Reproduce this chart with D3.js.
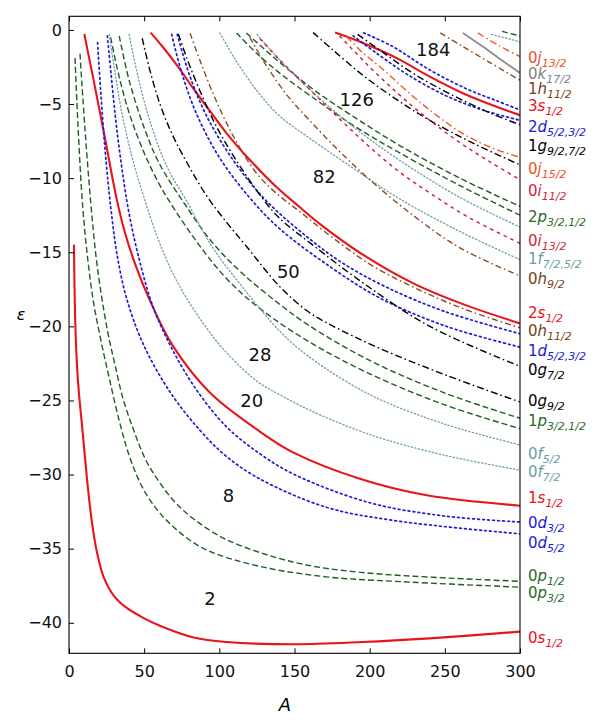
<!DOCTYPE html>
<html><head><meta charset="utf-8">
<script src="https://cdn.jsdelivr.net/npm/d3@7"></script>
<style>body{margin:0;background:#fff} svg{display:block} text{font-family:"DejaVu Sans",sans-serif}</style>
</head><body><svg id="c" width="606" height="722"></svg>
<script>
// ---------------- DATA (A, epsilon) ----------------
const xTicks = [0, 50, 100, 150, 200, 250, 300];
const yTicks = [0, -5, -10, -15, -20, -25, -30, -35, -40];

const lv_0s1 = [[3.3,-14.5],[3.7,-17.5],[4.3,-20.2],[5.3,-22.6],[6.6,-24.5],[8.3,-26.3],[10.5,-28.7],[13,-31.3],[15.5,-33.4],[18.5,-35.2],[23,-36.9],[30,-38.2],[38.4,-39.0],[50,-39.7],[60.5,-40.2],[83,-41.0],[105,-41.3],[150,-41.45],[195,-41.3],[240,-41.05],[300,-40.6]];
const lv_1s1 = [[10.2,-0.27],[13,-1.7],[16.2,-3.3],[22.8,-6.7],[31.7,-11.4],[37,-13.6],[44,-15.8],[54,-18.3],[69,-21.3],[94,-24.5],[127,-27.1],[149,-28.5],[194,-30.3],[238,-31.4],[300,-32.1]];
const lv_2s1 = [[54.3,-0.18],[62,-1.1],[72,-2.4],[83,-4.0],[94,-5.5],[105,-7.0],[116,-8.3],[138,-10.6],[154,-12.0],[167,-13.1],[196,-15.2],[229,-17.1],[262,-18.5],[300,-19.8]];
const lv_3s1 = [[177,-0.18],[196,-0.9],[218,-1.9],[240,-3.15],[262,-4.27],[284,-5.17],[300,-5.75]];

const lv_0p3 = [[4.0,-1.9],[6,-6.5],[9.1,-11.9],[12.5,-15.5],[16.2,-18.3],[20.5,-20.6],[25,-22.7],[34,-26.6],[41,-29.0],[49,-30.9],[58,-32.3],[67,-33.3],[80,-34.4],[94,-35.2],[127,-36.2],[171,-36.9],[216,-37.2],[300,-37.6]];
const lv_0p1 = [[7.3,-1.6],[10.5,-6.5],[14.5,-11.7],[18,-15.3],[21.7,-18.0],[26,-20.5],[30.6,-22.6],[36,-24.9],[43,-27.0],[51,-29.0],[60,-30.5],[70,-31.8],[83,-33.0],[105,-34.4],[149,-35.9],[194,-36.6],[300,-37.2]];
const lv_1p3 = [[27.7,-0.5],[33,-3.0],[40,-5.6],[50,-8.3],[60,-10.4],[67,-11.6],[85,-14.3],[105,-16.8],[127,-18.8],[159,-21.0],[200,-23.2],[250,-25.3],[300,-26.9]];
const lv_1p1 = [[33.4,-0.4],[40,-3.4],[50,-6.6],[60,-9.0],[76,-11.6],[95,-14.3],[115,-16.4],[140,-18.5],[159,-19.9],[200,-22.3],[250,-24.5],[300,-26.2]];
const lv_2p3 = [[111.5,-0.2],[125,-1.6],[140,-2.9],[160,-4.4],[190,-6.5],[220,-8.3],[260,-10.5],[300,-12.5]];
const lv_2p1 = [[118,-0.2],[130,-1.3],[145,-2.6],[165,-4.2],[190,-5.9],[220,-7.8],[260,-10.0],[300,-11.9]];
const lv_3p3 = [[288,-0.1],[300,-0.4]];

const lv_0d5 = [[19,-0.85],[21,-4],[23.5,-7.5],[26,-10.3],[28.5,-12.6],[31.7,-15.0],[38,-18.0],[49.4,-21.2],[67,-24.4],[87,-27.0],[105,-28.8],[127,-30.3],[171,-32.2],[216,-33.1],[300,-34.0]];
const lv_0d3 = [[25.5,-0.4],[28,-3],[31,-6],[35,-9.2],[40,-12.4],[47,-15.6],[56,-18.7],[70,-21.8],[87,-24.6],[105,-26.8],[127,-28.6],[150,-30.0],[200,-31.9],[250,-32.8],[300,-33.2]];
const lv_1d5 = [[68.3,-0.3],[75,-2.9],[85,-5.7],[100,-8.6],[120,-11.3],[140,-13.4],[174,-16.0],[207,-18.1],[251,-20.0],[300,-21.4]];
const lv_1d3 = [[72,-0.3],[80,-3.0],[92,-5.9],[110,-8.9],[130,-11.4],[154,-13.6],[180,-15.6],[210,-17.3],[250,-19.0],[300,-20.5]];
const lv_2d5 = [[189,-0.4],[205,-1.6],[225,-3.0],[250,-4.4],[275,-5.4],[300,-6.1]];
const lv_2d3 = [[196,-0.2],[215,-1.1],[240,-2.7],[265,-4.0],[285,-4.8],[300,-5.4]];

const lv_0f7 = [[26.8,-0.3],[30,-2.5],[35,-5.5],[42,-8.6],[50.5,-11.5],[60,-14.3],[72,-17.0],[90,-19.9],[105,-21.8],[125,-23.7],[140,-24.6],[159,-25.6],[200,-27.3],[250,-28.7],[300,-29.7]];
const lv_0f5 = [[40,-0.3],[46,-3.2],[54,-6.2],[65,-9.2],[78,-11.5],[95,-14.6],[115,-17.3],[140,-20.3],[159,-22.0],[200,-24.6],[250,-26.6],[300,-28.0]];
const lv_1f7 = [[100.4,-0.2],[110,-1.9],[125,-4.1],[140,-5.8],[160,-7.3],[190,-9.4],[220,-11.4],[260,-13.6],[300,-15.5]];
const lv_1f5 = [[125,-0.3],[140,-2.0],[160,-4.0],[190,-6.6],[220,-8.8],[260,-11.3],[300,-13.3]];
const lv_2f7 = [[281,-0.3],[300,-0.8]];

const lv_0g9 = [[48.7,-0.56],[54,-2.8],[60.5,-5.0],[68,-6.9],[76,-8.5],[91.6,-11.2],[105,-13.0],[118,-14.6],[140,-17.3],[159,-19.0],[174,-19.9],[207,-21.5],[251,-23.3],[300,-25.1]];
const lv_0g7 = [[72.7,-0.27],[78,-1.8],[85,-3.6],[97,-6.3],[110,-8.6],[129,-11.4],[140,-12.7],[162,-14.5],[196,-17.1],[240,-20.0],[300,-22.7]];
const lv_1g9 = [[162.4,-0.18],[175,-1.3],[196,-3.1],[218,-4.7],[240,-6.1],[270,-7.7],[300,-9.1]];
const lv_1g7 = [[192,-0.3],[210,-1.6],[230,-3.0],[255,-4.4],[280,-5.6],[300,-6.4]];

const lv_0h11 = [[80.5,-0.22],[88,-2.3],[98,-4.8],[110,-7.3],[125,-9.7],[140,-11.2],[154,-12.3],[170,-13.6],[200,-15.8],[230,-17.4],[262,-18.8],[300,-20.1]];
const lv_0h9 = [[120.3,-0.5],[130,-2.2],[145,-4.4],[160,-6.1],[180,-8.2],[200,-10.1],[230,-12.6],[260,-14.7],[300,-16.6]];
const lv_1h11 = [[247,-0.2],[260,-1.0],[280,-2.2],[300,-3.4]];

const lv_0i13 = [[127,-0.6],[140,-2.0],[160,-4.0],[180,-6.0],[200,-7.9],[220,-9.6],[240,-11.0],[265,-12.6],[300,-14.4]];
const lv_0i11 = [[180,-0.4],[200,-2.5],[220,-4.4],[240,-6.1],[260,-7.6],[280,-8.9],[300,-10.1]];

const lv_0j15 = [[184.6,-0.45],[195,-1.5],[207,-2.5],[229,-4.5],[245,-5.8],[262,-7.0],[280,-7.9],[300,-8.6]];
const lv_0j13 = [[272,-0.2],[285,-1.0],[300,-1.8]];
const lv_0k17 = [[262,-0.2],[275,-1.1],[290,-2.2],[300,-2.9]];

// orbital letter of each curve
const curveOrbital = ["s","s","s","s","p","p","p","p","p","p","p","d","d","d","d","d","d","f","f","f","f","f","g","g","g","g","h","h","h","i","i","j","j","k"];
const curvePoints = [lv_0s1,lv_1s1,lv_2s1,lv_3s1,lv_0p3,lv_0p1,lv_1p3,lv_1p1,lv_2p3,lv_2p1,lv_3p3,lv_0d5,lv_0d3,lv_1d5,lv_1d3,lv_2d5,lv_2d3,lv_0f7,lv_0f5,lv_1f7,lv_1f5,lv_2f7,lv_0g9,lv_0g7,lv_1g9,lv_1g7,lv_0h11,lv_0h9,lv_1h11,lv_0i13,lv_0i11,lv_0j15,lv_0j13,lv_0k17];

// right-hand level labels: node, orbital, j, energy where label sits
const labelN   = ["0","0","1","3","2","1","0","0","2","0","1","0","2","0","1","0","0","1","0","0","1","0","0","0","0","0"];
const labelL   = ["j","k","h","s","d","g","j","i","p","i","f","h","s","h","d","g","g","p","f","f","s","d","d","p","p","s"];
const labelJ   = ["13/2","17/2","11/2","1/2","5/2,3/2","9/2,7/2","15/2","11/2","3/2,1/2","13/2","7/2,5/2","9/2","1/2","11/2","5/2,3/2","7/2","9/2","3/2,1/2","5/2","7/2","1/2","3/2","5/2","1/2","3/2","1/2"];
const labelEps = [-1.86,-2.97,-3.98,-5.13,-6.52,-7.83,-9.38,-10.86,-12.6,-14.24,-15.42,-16.8,-19.06,-20.31,-21.66,-22.94,-25.03,-26.38,-28.61,-29.76,-31.55,-33.23,-34.58,-36.84,-37.96,-40.99];

// magic numbers placed in the gaps
const magicNumbers = ["2","8","20","28","50","82","126","184"];
const magicA   = [93.8,106,121.5,127,145.9,169.8,191.4,242.3];
const magicEps = [-38.35,-31.4,-25.0,-21.9,-16.3,-9.9,-4.72,-1.35];

// ---------------- STYLE ----------------
const styleOf = {
  s:{c:"#e8141c", w:2.1, d:null},
  p:{c:"#1f5e1f", w:1.4, d:"6,3"},
  d:{c:"#1c1cd8", w:1.7, d:"1.8,3.2"},
  f:{c:"#6f9fa4", w:1.3, d:"1.3,2.3"},
  g:{c:"#000000", w:1.4, d:"7,3,1.6,3"},
  h:{c:"#8b4a26", w:1.4, d:"6,3,1.6,3"},
  i:{c:"#d42045", w:1.5, d:"3.5,4"},
  j:{c:"#f05a28", w:1.4, d:"7,3,1.6,3"},
  k:{c:"#8c8c8c", w:1.8, d:null}
};
const labelColor = {s:"#e8141c",p:"#2a6a2a",d:"#1a1ad8",f:"#6a9ea3",g:"#000",h:"#7a4020",i:"#d21f3c",j:"#f0502a",k:"#808080"};

const svg = d3.select("#c");
const x = d3.scaleLinear().domain([0,300]).range([69,520]);
const y = d3.scaleLinear().domain([0.92,-42.06]).range([16.3,653.3]);

svg.append("defs").append("clipPath").attr("id","clip")
  .append("rect").attr("x",69).attr("y",16.3).attr("width",451).attr("height",637);

const line = d3.line().x(d=>x(d[0])).y(d=>y(d[1])).curve(d3.curveCatmullRom.alpha(0.5));
const g = svg.append("g").attr("clip-path","url(#clip)");
curvePoints.forEach((pts,i)=>{
  const st = styleOf[curveOrbital[i]];
  g.append("path").attr("d",line(pts)).attr("fill","none")
   .attr("stroke",st.c).attr("stroke-width",st.w)
   .attr("stroke-dasharray",st.d).attr("stroke-linecap", st.d && st.d.startsWith("1.") ? "round":"butt");
});

// axes
const fmt = d3.format("d");
const ax = svg.append("g").attr("transform",`translate(0,${y.range()[1]})`)
  .call(d3.axisBottom(x).tickValues(xTicks).tickSizeInner(-5).tickSizeOuter(0).tickPadding(12).tickFormat(fmt));
const axt = svg.append("g").attr("transform",`translate(0,${y.range()[0]})`)
  .call(d3.axisTop(x).tickValues(xTicks).tickSizeInner(-5).tickSizeOuter(0).tickFormat(""));
const ay = svg.append("g").attr("transform",`translate(${x.range()[0]},0)`)
  .call(d3.axisLeft(y).tickValues(yTicks).tickSizeInner(-5).tickSizeOuter(0).tickPadding(7).tickFormat(fmt));
[ax,axt,ay].forEach(a=>{
  a.select(".domain").remove();
  a.selectAll("line").attr("stroke","#000").attr("stroke-width",1);
  a.selectAll("text").attr("font-family","DejaVu Sans, sans-serif").attr("font-size",16).attr("fill","#111");
});
svg.append("rect").attr("x",69).attr("y",16.3).attr("width",451).attr("height",637)
  .attr("fill","none").attr("stroke","#000").attr("stroke-width",1.1);

// axis titles
svg.append("text").attr("x",285).attr("y",711).attr("text-anchor","middle")
  .attr("font-size",18).attr("font-style","italic").text("A");
svg.append("text").attr("x",21).attr("y",320).attr("text-anchor","middle")
  .attr("font-size",16).attr("font-style","italic").attr("font-family","DejaVu Serif, serif").text("ε");

// magic numbers
magicNumbers.forEach((m,i)=>{
  svg.append("text").attr("x",x(magicA[i])).attr("y",y(magicEps[i])+6.5)
    .attr("text-anchor","middle").attr("font-size",18).attr("fill","#111").text(m);
});

// level labels
labelN.forEach((n,i)=>{
  const col = labelColor[labelL[i]];
  const t = svg.append("text").attr("x",528).attr("y",y(labelEps[i])+5.5).attr("font-size",15).attr("fill",col);
  t.append("tspan").text(n);
  t.append("tspan").attr("font-style","italic").text(labelL[i]);
  t.append("tspan").attr("font-size",11).attr("dy",4).attr("font-style","italic").text(labelJ[i]);
});
</script></body></html>
